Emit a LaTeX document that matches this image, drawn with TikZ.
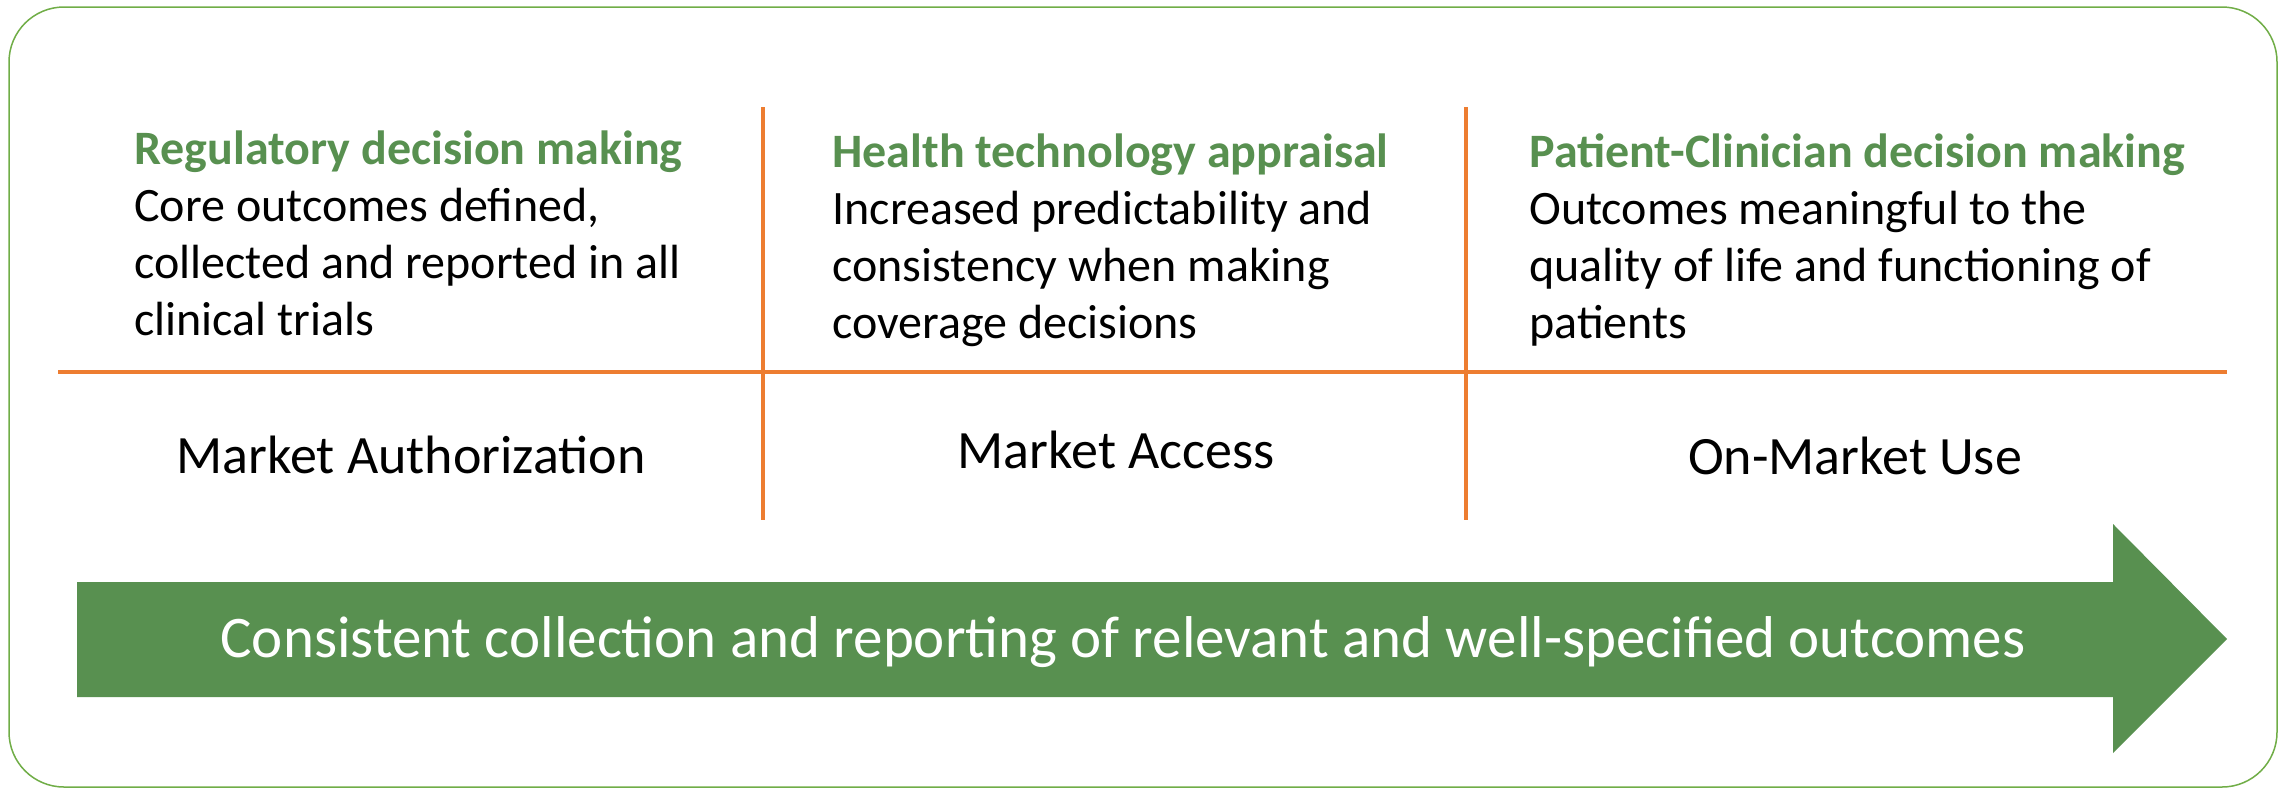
\documentclass[tikz,border=0pt]{standalone}
\usepackage{fontspec}
\setmainfont{Carlito}
\definecolor{hdgreen}{RGB}{88,144,80}
\definecolor{framegreen}{RGB}{112,173,71}
\definecolor{divorange}{RGB}{237,125,49}
\begin{document}
\begin{tikzpicture}[x=0.5pt,y=-0.5pt,
  body/.style={anchor=base west, inner sep=0pt, align=left, font=\fontsize{24}{28.5}\selectfont},
  stage/.style={anchor=base, inner sep=0pt, font=\fontsize{27}{31}\selectfont},
  divider/.style={divorange, line width=2pt},
  frame/.style={framegreen, line width=0.75pt, rounded corners=27.5pt},
  bigarrow/.style={fill=hdgreen, draw=none},
  arrowtext/.style={anchor=base, inner sep=0pt, text=white, font=\fontsize{29.5}{35}\selectfont}]
\useasboundingbox (0,0) rectangle (2285,788);
\draw[frame] (9,7) rectangle (2277,787);
% dividers
\coordinate (h1) at (58,372);
\coordinate (h2) at (2227,372);
\coordinate (v1t) at (763,107);
\coordinate (v1b) at (763,520);
\coordinate (v2t) at (1466,107);
\coordinate (v2b) at (1466,520);
\draw[divider] (h1) -- (h2);
\draw[divider] (v1t) -- (v1b);
\draw[divider] (v2t) -- (v2b);
% column texts (anchored at the baseline of the last line)
\node[body] (c1) at (134,335) {\textcolor{hdgreen}{\textbf{Regulatory decision making}}\\Core outcomes defined,\\collected and reported in all\\clinical trials};
\node[body] (c2) at (832,338) {\textcolor{hdgreen}{\textbf{Health technology appraisal}}\\Increased predictability and\\consistency when making\\coverage decisions};
\node[body] (c3) at (1529,338) {\textcolor{hdgreen}{\textbf{Patient-Clinician decision making}}\\Outcomes meaningful to the\\quality of life and functioning of\\patients};
% stage labels
\node[stage] (s1) at (411,473) {Market Authorization};
\node[stage] (s2) at (1116,468) {Market Access};
\node[stage] (s3) at (1855,474) {On-Market Use};
% arrow
\fill[bigarrow] (77,582) -- (2113,582) -- (2113,524) -- (2227,639) -- (2113,753) -- (2113,697) -- (77,697) -- cycle;
\node[arrowtext] (at) at (1123,657) {Consistent collection and reporting of relevant and well-specified outcomes};
\end{tikzpicture}
\end{document}
